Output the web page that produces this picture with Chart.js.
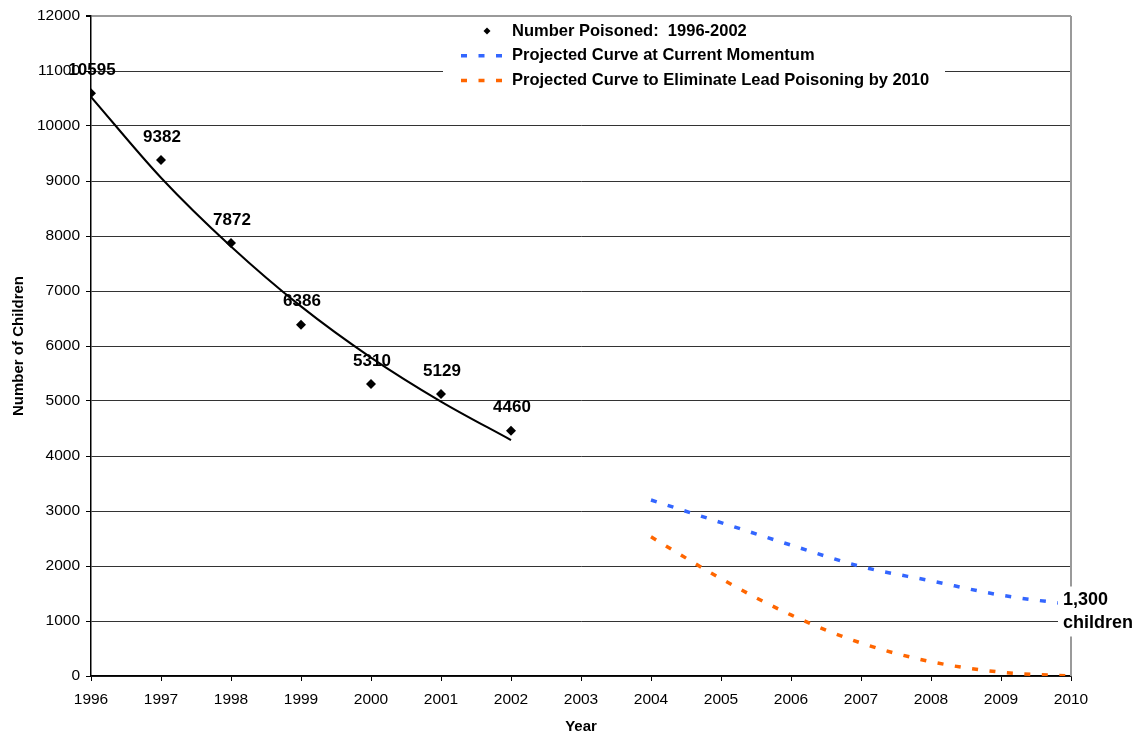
<!DOCTYPE html>
<html>
<head>
<meta charset="utf-8">
<script src="https://cdn.jsdelivr.net/npm/chart.js@4/dist/chart.umd.min.js"></script>
<style>
  html, body { margin: 0; padding: 0; background: #ffffff; }
  #wrap { width: 1141px; height: 734px; }
</style>
</head>
<body>
<div id="wrap"><canvas id="c" width="1141" height="734"></canvas></div>
<script>
// Children poisoned per year, 1996-2002
const years = [1996, 1997, 1998, 1999, 2000, 2001, 2002];
const poisoned = [10595, 9382, 7872, 6386, 5310, 5129, 4460];
// Fitted trend through the observed years
const trend = [10530, 9060, 7810, 6720, 5790, 4990, 4290];

// Projections 2004-2010
const projYears = [2004, 2005, 2006, 2007, 2008, 2009, 2010];
const momentum = [3200, 2790, 2380, 1990, 1730, 1470, 1300];
const eliminate = [2530, 1770, 1110, 600, 260, 70, 0];

const legendItems = [
  { label: 'Number Poisoned:  1996-2002', kind: 'point', color: '#000000' },
  { label: 'Projected Curve at Current Momentum', kind: 'dash', color: '#3366FF' },
  { label: 'Projected Curve to Eliminate Lead Poisoning by 2010', kind: 'dash', color: '#FF6600' }
];
const endLabel = ['1,300', 'children'];

const toXY = (xs, ys) => xs.map((x, i) => ({ x: x, y: ys[i] }));

const FONT = 'Arial, "Liberation Sans", Helvetica, sans-serif';

const overlay = {
  id: 'overlay',
  afterDatasetsDraw(chart) {
    const ctx = chart.ctx;
    const meta = chart.getDatasetMeta(0);
    ctx.save();
    ctx.fillStyle = '#000';
    ctx.font = 'bold 17px ' + FONT;
    ctx.textAlign = 'center';
    ctx.textBaseline = 'middle';
    meta.data.forEach((pt, i) => {
      ctx.fillText(String(poisoned[i]), pt.x + 1, pt.y - 23);
    });
    ctx.restore();
  },
  afterDraw(chart) {
    const ctx = chart.ctx;
    const a = chart.chartArea;
    ctx.save();
    // right frame edge
    ctx.strokeStyle = '#9a9a9a';
    ctx.lineWidth = 2;
    ctx.beginPath();
    ctx.moveTo(a.right, a.top);
    ctx.lineTo(a.right, a.bottom);
    ctx.stroke();

    // end-of-projection label
    const xs = chart.scales.x, ys = chart.scales.y;
    const ex = xs.getPixelForValue(2010);
    const ey = ys.getPixelForValue(momentum[momentum.length - 1]);
    ctx.fillStyle = '#ffffff';
    ctx.fillRect(ex - 13, ey - 18, 90, 50);
    ctx.fillStyle = '#000';
    ctx.font = 'bold 18px ' + FONT;
    ctx.textAlign = 'left';
    ctx.textBaseline = 'middle';
    ctx.fillText(endLabel[0], ex - 8, ey - 4);
    ctx.fillText(endLabel[1], ex - 8, ey + 19);

    // legend
    ctx.fillStyle = '#ffffff';
    ctx.fillRect(443, 19, 502, 80);
    ctx.font = 'bold 16.5px ' + FONT;
    ctx.textAlign = 'left';
    ctx.textBaseline = 'middle';
    legendItems.forEach((it, i) => {
      const y = 31 + i * 24.8;
      if (it.kind === 'point') {
        ctx.fillStyle = it.color;
        ctx.beginPath();
        ctx.moveTo(487, y - 3.5);
        ctx.lineTo(490.5, y);
        ctx.lineTo(487, y + 3.5);
        ctx.lineTo(483.5, y);
        ctx.closePath();
        ctx.fill();
      } else {
        ctx.strokeStyle = it.color;
        ctx.lineWidth = 3.5;
        ctx.setLineDash([6, 11.5]);
        ctx.beginPath();
        ctx.moveTo(461, y);
        ctx.lineTo(503, y);
        ctx.stroke();
        ctx.setLineDash([]);
      }
      ctx.fillStyle = '#000';
      ctx.fillText(it.label, 512, y);
    });
    ctx.restore();
  }
};

new Chart(document.getElementById('c'), {
  type: 'scatter',
  data: {
    datasets: [
      {
        label: 'Number Poisoned:  1996-2002',
        data: toXY(years, poisoned),
        showLine: false,
        pointStyle: 'rectRot',
        pointRadius: 5,
        backgroundColor: '#000',
        borderColor: '#000',
        borderWidth: 0
      },
      {
        label: 'Trend',
        data: toXY(years, trend),
        showLine: true,
        borderColor: '#000',
        borderWidth: 2,
        pointRadius: 0,
        cubicInterpolationMode: 'monotone'
      },
      {
        label: 'Projected Curve at Current Momentum',
        data: toXY(projYears, momentum),
        showLine: true,
        borderColor: '#3366FF',
        borderWidth: 3.5,
        borderDash: [6, 11.5],
        pointRadius: 0,
        cubicInterpolationMode: 'monotone'
      },
      {
        label: 'Projected Curve to Eliminate Lead Poisoning by 2010',
        data: toXY(projYears, eliminate),
        showLine: true,
        borderColor: '#FF6600',
        borderWidth: 3.5,
        borderDash: [6, 11.5],
        pointRadius: 0,
        cubicInterpolationMode: 'monotone'
      }
    ]
  },
  options: {
    responsive: false,
    animation: false,
    devicePixelRatio: 1,
    layout: { padding: { left: 0, right: 70, top: 16, bottom: 0 } },
    plugins: {
      legend: { display: false },
      tooltip: { enabled: false }
    },
    scales: {
      x: {
        type: 'linear',
        min: 1996,
        max: 2010,
        afterFit(s) { s.height = 58; },
        ticks: {
          stepSize: 1,
          color: '#000',
          font: { family: FONT, size: 15.5 },
          padding: 9,
          maxRotation: 0,
          callback: v => String(v)
        },
        grid: { drawOnChartArea: false, drawTicks: true, tickLength: 5, tickColor: '#000' },
        border: { color: '#000', width: 1.5 },
        title: {
          display: true,
          text: 'Year',
          color: '#000',
          font: { family: FONT, size: 15, weight: 'bold', lineHeight: 1 },
          padding: { top: 0, bottom: 0 }
        }
      },
      y: {
        min: 0,
        max: 12000,
        afterFit(s) { s.width = 91; },
        ticks: {
          stepSize: 1000,
          color: '#000',
          font: { family: FONT, size: 15.5 },
          padding: 6,
          callback: v => String(v)
        },
        grid: {
          color: ctx => (ctx.tick && ctx.tick.value === 12000 ? '#9a9a9a' : '#333333'),
          lineWidth: ctx => (ctx.tick && ctx.tick.value === 12000 ? 2 : 1),
          tickLength: 5,
          tickColor: '#000'
        },
        border: { color: '#000', width: 1.5 },
        title: {
          display: true,
          text: 'Number of Children',
          color: '#000',
          font: { family: FONT, size: 15, weight: 'bold', lineHeight: 1 },
          padding: { top: 11, bottom: 0 }
        }
      }
    }
  },
  plugins: [overlay]
});
</script>
</body>
</html>
